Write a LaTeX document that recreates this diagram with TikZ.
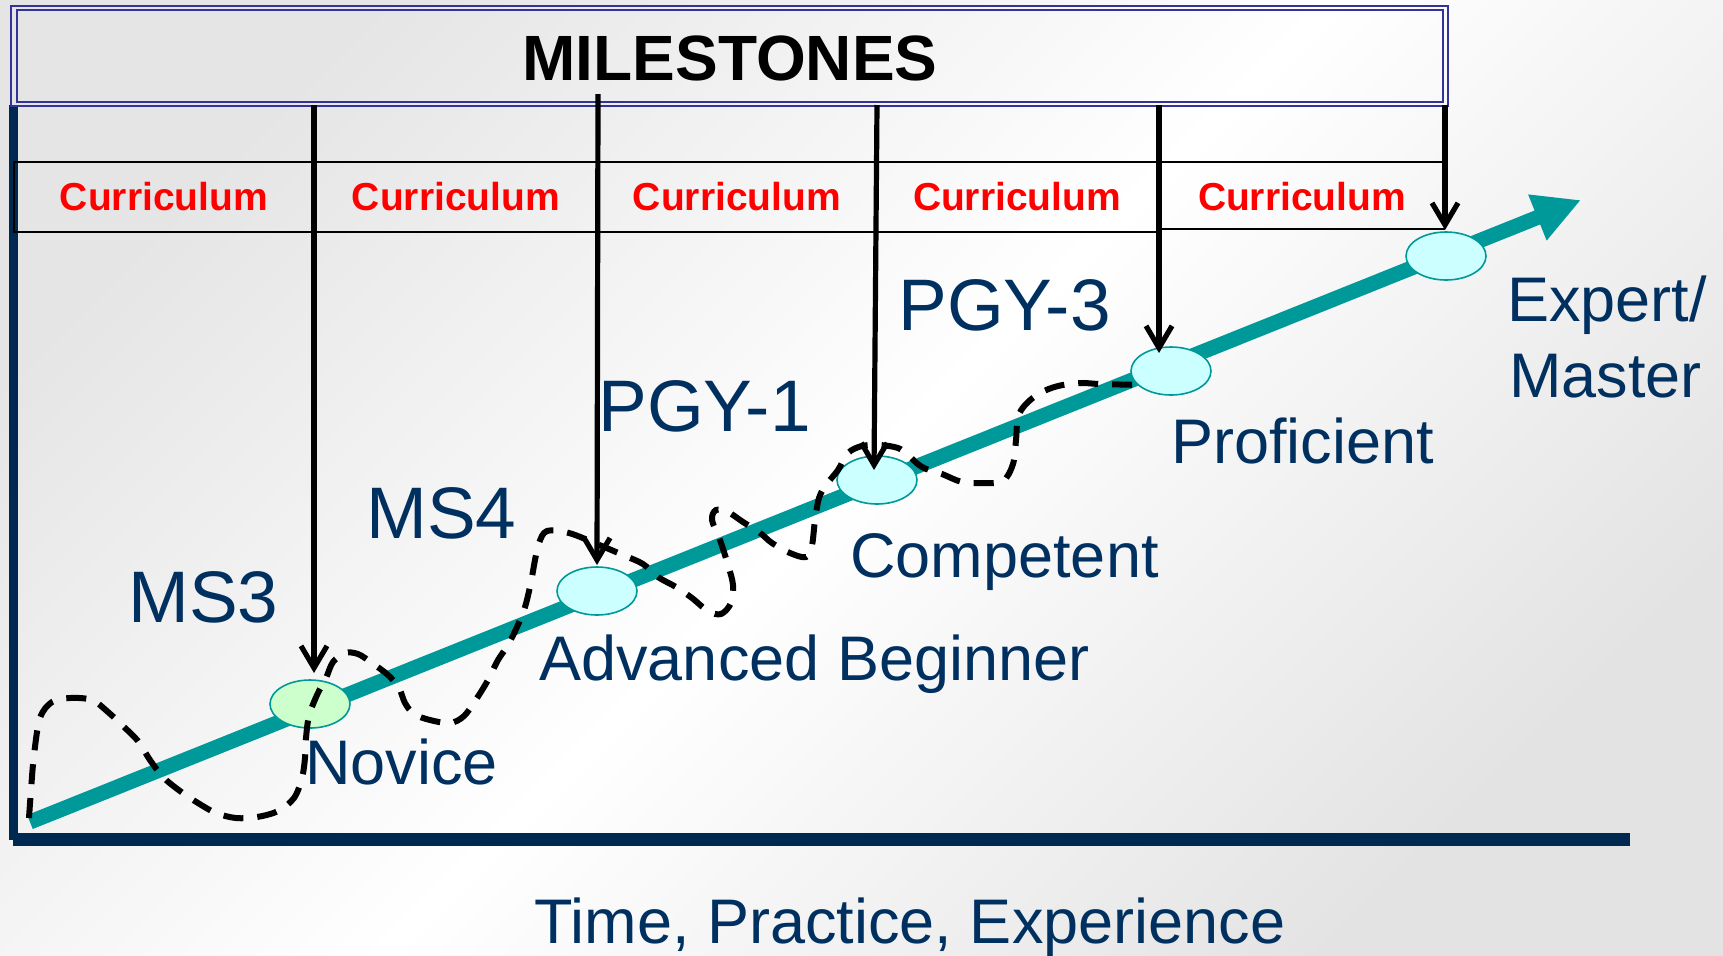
\documentclass[tikz,border=0pt]{standalone}
\usepackage{fontspec}
\setmainfont{Liberation Sans}
\usetikzlibrary{arrows.meta,shapes.geometric}
\definecolor{navy}{RGB}{0,41,82}
\definecolor{labelblue}{RGB}{0,48,96}
\definecolor{tealc}{RGB}{0,153,153}
\definecolor{boxblue}{RGB}{51,51,153}
\definecolor{cyanfill}{RGB}{204,255,255}
\definecolor{greenfill}{RGB}{204,255,204}
\begin{document}
\begin{tikzpicture}[x=0.5pt,y=-0.5pt,
  stage/.style={ellipse, draw=tealc, line width=0.8pt, fill=cyanfill, minimum width=40pt, minimum height=24pt, inner sep=0pt},
  milearrow/.style={line width=2.6pt, -{Straight Barb[length=11pt,width=13pt]}},
  curlabel/.style={text=red, font=\bfseries\fontsize{19.5}{22}\selectfont, anchor=base, inner sep=0pt},
  biglabel/.style={text=labelblue, font=\fontsize{36.5}{40}\selectfont, anchor=base west, inner sep=0pt},
  stagelabel/.style={text=labelblue, font=\fontsize{31.5}{36}\selectfont, anchor=base west, inner sep=0pt},
  wander/.style={line width=3pt, dash pattern=on 10pt off 7pt, black},
  boxline/.style={draw=boxblue, line width=0.85pt},
  rowline/.style={draw=black, line width=1pt}
]
\useasboundingbox (0,0) rectangle (1723,955);
% background
\shade[top color=black!10, bottom color=black!11, middle color=white, shading angle=45] (0,0) rectangle (1723,955);
% frame bars
\fill[navy] (9,105) rectangle (18,840);
\fill[navy] (13,833) rectangle (1630,846);
% milestones box
\draw[boxline] (11,6) rectangle (1448,106);
\draw[boxline] (17,10) rectangle (1443,102);
\node[font=\bfseries\fontsize{32}{36}\selectfont, anchor=base, inner sep=0pt] (title) at (730,80) {MILESTONES};
% curriculum row
\draw[rowline] (1445,162) -- (14,162) -- (14,232) -- (1159,232);
\draw[rowline] (1159,229) -- (1445,229);
\node[curlabel] (c1) at (164,210) {Curriculum};
\node[curlabel] (c2) at (456,210) {Curriculum};
\node[curlabel] (c3) at (737,210) {Curriculum};
\node[curlabel] (c4) at (1017,210) {Curriculum};
\node[curlabel] (c5) at (1302,210) {Curriculum};
% main teal arrow
\coordinate (start) at (30,822);
\coordinate (tip) at (1581,200);
\draw[tealc, line width=7.5pt, -{Triangle[length=23.5pt,width=23pt]}] (start) -- (tip);
% stages
\node[stage, fill=greenfill] (nov) at (310,704) {};
\node[stage] (adv) at (597,591) {};
\node[stage] (comp) at (877,480) {};
\node[stage] (prof) at (1171,371) {};
\node[stage] (exp) at (1446,256) {};
% wandering dashed path
\draw[wander] plot[smooth, tension=0.55] coordinates {
(29,818) (31,790) (34,755) (40,718) (52,702) (70,698) (92,700) (108,712) (123,726) (138,741) (150,760) (163,777) (180,791) (198,803) (216,813) (236,818) (257,817) (278,811) (294,798) (302,778) (305,758) (306,738) (309,716) (317,695) (326,678) (333,662) (345,653) (358,654) (372,663) (388,675) (399,688) (405,703) (414,714) (430,720) (450,723) (464,716) (477,698) (488,680) (498,660) (508,645) (517,627) (525,607) (531,582) (535,560) (539,543) (547,531) (569,533) (597,544) (623,555) (643,564) (658,577) (676,587) (692,598) (708,611) (721,614) (731,603) (733,585) (728,565) (720,540) (712,520) (716,510) (728,512) (743,522) (759,532) (772,543) (790,553) (806,557) (812,545) (815,520) (819,498) (826,485) (838,470) (848,453) (862,446) (880,445) (898,448) (908,455) (922,467) (942,474) (962,482) (983,483) (1003,481) (1013,464) (1016,440) (1018,417) (1026,404) (1040,393) (1058,386) (1080,383) (1100,384) (1143,385)};
% milestone arrows
\coordinate (m1) at (314,105);
\coordinate (m2) at (598,94);
\coordinate (m3) at (877,105);
\coordinate (m4) at (1159,105);
\coordinate (m5) at (1445,105);
\coordinate (t1) at (314,673);
\coordinate (t2) at (597,565);
\coordinate (t3) at (874,470);
\coordinate (t4) at (1159,353);
\coordinate (t5) at (1445,230);
\draw[milearrow] (m1) -- (t1);
\draw[milearrow] (m2) -- (t2);
\draw[milearrow] (m3) -- (t3);
\draw[milearrow] (m4) -- (t4);
\draw[milearrow] (m5) -- (t5);
% labels
\node[biglabel] (ms3) at (128,622) {MS3};
\node[biglabel] (ms4) at (366,538) {MS4};
\node[biglabel] (pgy1) at (598,431) {PGY-1};
\node[biglabel] (pgy3) at (898,330) {PGY-3};
\node[stagelabel] (lnov) at (305,784) {Novice};
\node[stagelabel] (ladv) at (539,680) {Advanced Beginner};
\node[stagelabel] (lcomp) at (850,577) {Competent};
\node[stagelabel] (lprof) at (1171,463) {Proficient};
\node[stagelabel] (lexp) at (1507,321) {Expert/};
\node[stagelabel] (lmas) at (1509,397) {Master};
\node[stagelabel, anchor=base] (axis) at (910,943) {Time, Practice, Experience};
\end{tikzpicture}
\end{document}
